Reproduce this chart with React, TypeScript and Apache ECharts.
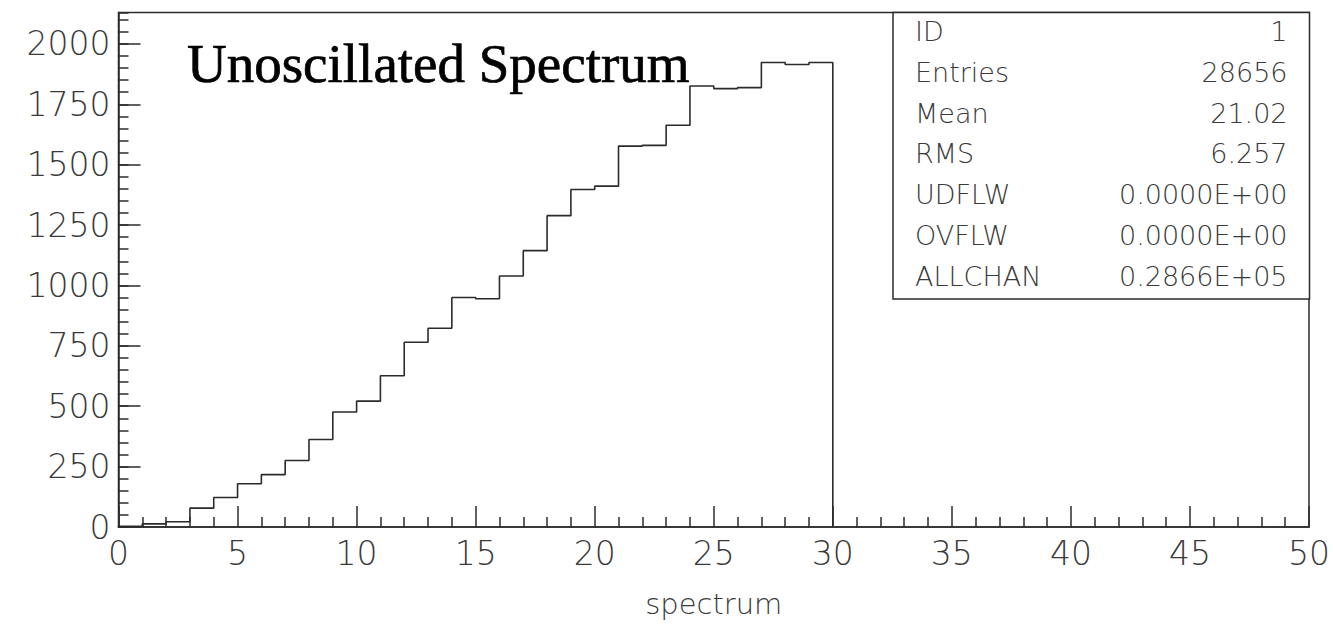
import React, { useEffect, useRef } from "react";
import * as echarts from "echarts";

// Histogram contents: one count per unit-wide bin, starting at x = 0
const binStart = 0;
const binWidth = 1;
const binCounts = [
  3, 13, 22, 78, 122, 179, 217, 275, 362, 476,
  521, 626, 765, 823, 950, 945, 1039, 1144, 1289, 1397,
  1411, 1577, 1580, 1663, 1826, 1815, 1819, 1923, 1915, 1923,
];

// Statistics panel
const statLabels = ["ID", "Entries", "Mean", "RMS", "UDFLW", "OVFLW", "ALLCHAN"];
const statValues = ["1", "28656", "21.02", "6.257", "0.0000E+00", "0.0000E+00", "0.2866E+05"];

const plotTitle = "Unoscillated Spectrum";
const xAxisName = "spectrum";

const xMin = 0;
const xMax = 50;
const yMin = 0;
const yMax = 2130;

const W = 1333;
const H = 644;

const INK = "#2b2b2b";
const TEXT = "#3a3a3a";
const SANS = "'DejaVu Sans', sans-serif";

// Outline of the histogram as a closed staircase
function stepPoints(): number[][] {
  const pts: number[][] = [[binStart, 0]];
  binCounts.forEach((v, i) => {
    const x0 = binStart + i * binWidth;
    pts.push([x0, v], [x0 + binWidth, v]);
  });
  pts.push([binStart + binCounts.length * binWidth, 0]);
  return pts;
}

export default function App() {
  const ref = useRef<HTMLDivElement>(null);

  useEffect(() => {
    if (!ref.current) return;
    const chart = echarts.init(ref.current, null, { renderer: "svg" });

    const gridLeft = 118.5;
    const gridTop = 12.5;
    const gridRight = 23.5;
    const gridBottom = 117;

    const boxLeft = 893;
    const boxRight = W - gridRight;
    const boxTop = gridTop;
    const boxBottom = 299;
    const rowFirst = 31.5;
    const rowStep = 40.8;

    const statText: any[] = [];
    statLabels.forEach((label, i) => {
      statText.push({
        type: "text",
        x: boxLeft + 22,
        y: rowFirst + i * rowStep,
        style: {
          text: label,
          fill: TEXT,
          font: `200 27px ${SANS}`,
          align: "left",
          verticalAlign: "middle",
        },
      });
      statText.push({
        type: "text",
        x: boxRight - 22,
        y: rowFirst + i * rowStep,
        style: {
          text: statValues[i],
          fill: TEXT,
          font: `200 27px ${SANS}`,
          align: "right",
          verticalAlign: "middle",
        },
      });
    });

    chart.setOption({
      animation: false,
      backgroundColor: "#ffffff",
      grid: {
        left: gridLeft,
        top: gridTop,
        right: gridRight,
        bottom: gridBottom,
        show: true,
        borderColor: INK,
        borderWidth: 1.5,
        backgroundColor: "transparent",
      },
      xAxis: {
        type: "value",
        min: xMin,
        max: xMax,
        interval: 5,
        name: xAxisName,
        nameLocation: "middle",
        nameGap: 62,
        nameTextStyle: { fontFamily: SANS, fontWeight: 200, fontSize: 29, color: TEXT },
        axisLine: { show: true, lineStyle: { color: INK, width: 1.5 } },
        axisTick: { show: true, inside: true, length: 21, lineStyle: { color: INK, width: 1.5 } },
        minorTick: { show: true, splitNumber: 5, length: 10, lineStyle: { color: INK, width: 1.5 } },
        axisLabel: { fontFamily: SANS, fontWeight: 200, fontSize: 33, color: TEXT, margin: 10 },
        splitLine: { show: false },
      },
      yAxis: [
        {
          type: "value",
          position: "left",
          min: yMin,
          max: yMax,
          interval: 250,
          axisLine: { show: true, lineStyle: { color: INK, width: 1.5 } },
          axisTick: { show: true, inside: true, length: 22, lineStyle: { color: INK, width: 1.5 } },
          axisLabel: {
            fontFamily: SANS,
            fontWeight: 200,
            fontSize: 33,
            color: TEXT,
            margin: 8,
            showMaxLabel: false,
            formatter: (v: number) => (v % 250 === 0 ? String(v) : ""),
          },
          splitLine: { show: false },
        },
        {
          type: "value",
          position: "left",
          offset: 0,
          min: yMin,
          max: yMax,
          interval: 50,
          axisLine: { show: false },
          axisTick: { show: true, inside: true, length: 10, lineStyle: { color: INK, width: 1.5 } },
          axisLabel: { show: false },
          splitLine: { show: false },
        },
      ],
      series: [
        {
          type: "line",
          yAxisIndex: 0,
          data: stepPoints(),
          showSymbol: false,
          symbol: "none",
          lineStyle: { color: INK, width: 1.6 },
          silent: true,
        },
      ],
      graphic: [
        {
          type: "text",
          x: 187,
          y: 63.5,
          style: {
            text: plotTitle,
            fill: "#000000",
            stroke: "#000000",
            lineWidth: 0.7,
            font: "55px 'Liberation Serif', 'Times New Roman', serif",
            align: "left",
            verticalAlign: "middle",
          },
        },
        {
          type: "rect",
          shape: { x: boxLeft, y: boxTop, width: boxRight - boxLeft, height: boxBottom - boxTop },
          style: { fill: "#ffffff", stroke: INK, lineWidth: 1.5 },
        },
        ...statText,
      ],
    });

    return () => chart.dispose();
  }, []);

  return (
    <div
      ref={ref}
      style={{ position: "fixed", left: 0, top: 0, width: W, height: H, background: "#fff" }}
    />
  );
}
